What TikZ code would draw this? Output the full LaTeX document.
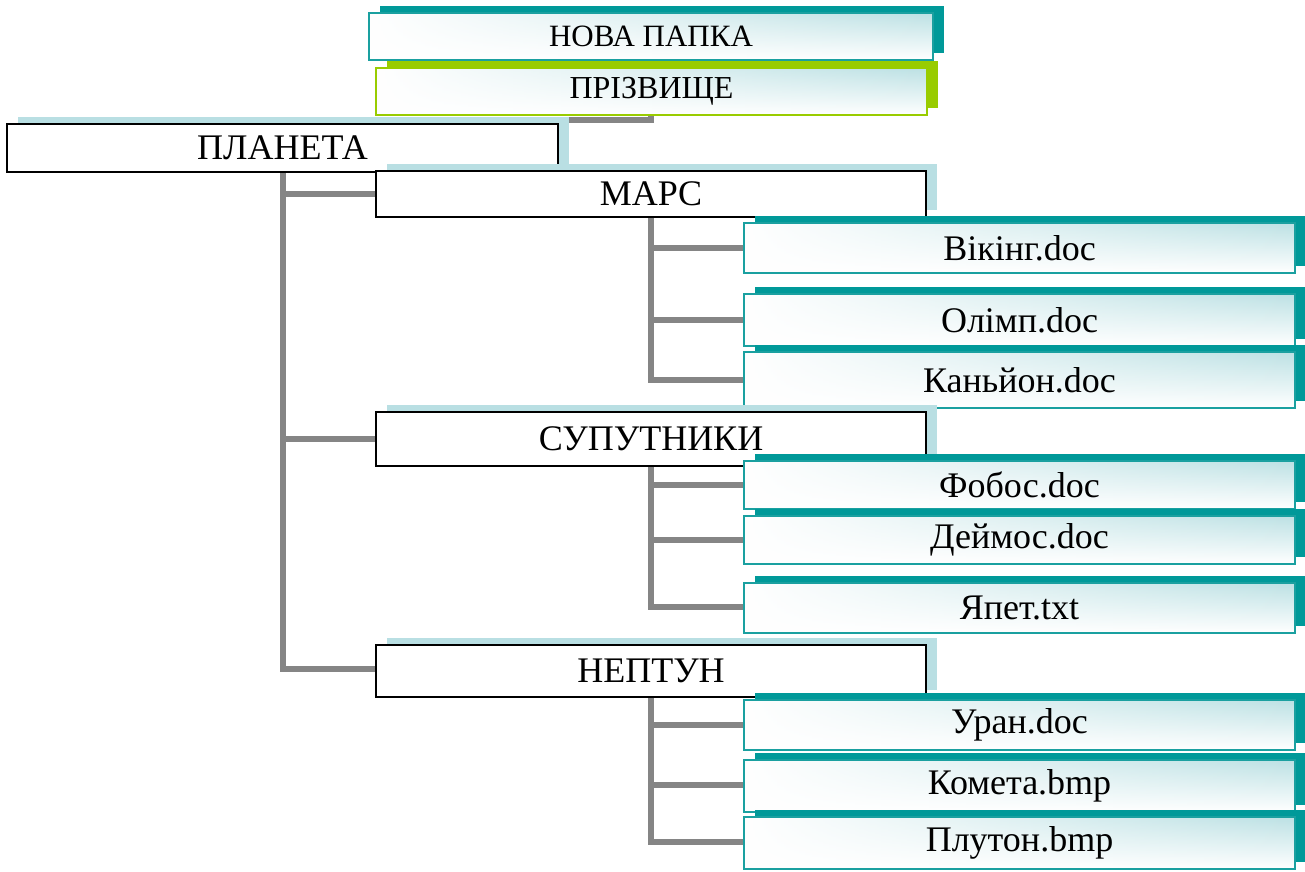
\documentclass[tikz,border=0pt]{standalone}
\usepackage{fontspec}
\setmainfont{Liberation Serif}
\usetikzlibrary{fadings}

\definecolor{tealshade}{HTML}{009999}
\definecolor{tealline}{HTML}{1AA0A0}
\definecolor{limeshade}{HTML}{99CC00}
\definecolor{paleblue}{HTML}{B9DFE3}
\definecolor{glow}{HTML}{BCE1E4}
\definecolor{linkgray}{HTML}{858585}

% white wash that fades out towards the right edge of a box
\tikzfading[name=washright, left color=transparent!0, right color=transparent!100]

\tikzset{
  conn/.style={draw=linkgray, line width=6pt},
  basebox/.style={rectangle, inner sep=0pt, align=center},
  folderbox/.style={basebox, draw=black, line width=2pt, fill=white,
    font=\fontsize{36}{42}\selectfont},
  filebox/.style={basebox, draw=tealline, line width=1.6pt,
    top color=glow, bottom color=white,
    path picture={\fill[white, path fading=washright]
      (path picture bounding box.south west) rectangle
      (path picture bounding box.north east);},
    font=\fontsize{36}{42}\selectfont},
  headbox/.style={filebox, font=\fontsize{31}{38}\selectfont},
}

% \panel{name}{cx}{cy}{width}{height}{style}{shadow colour}{text}
\newcommand{\panel}[8]{%
  \fill[#7] ({#2-#4/2+11},{#3-#5/2-7}) rectangle ({#2+#4/2+11},{#3+#5/2-7});
  \node[#6, minimum width=#4pt, minimum height=#5pt] (#1) at (#2,#3) {#8};
}

\begin{document}
\begin{tikzpicture}[x=1pt, y=-1pt]
\useasboundingbox (0,0) rectangle (1305,871);

% ---- connectors (behind the boxes) ----
\coordinate (novaS) at (651,60);
\coordinate (prizN) at (651,68);
\coordinate (prizS) at (651,115);
\coordinate (planN) at (282.5,124);
\draw[conn] (novaS) -- (prizN);
\draw[conn] (prizS) -- ++(0,4.5) -| (planN);

\coordinate (planS) at (282.5,172);
\coordinate (marsW) at (376,194);
\coordinate (supW)  at (376,439);
\coordinate (nepW)  at (376,669);
\draw[conn] (planS) |- (marsW);
\draw[conn] (planS) |- (supW);
\draw[conn] (planS) |- (nepW);

\coordinate (marsS) at (651,217);
\draw[conn] (marsS) |- (744,248);
\draw[conn] (marsS) |- (744,320);
\draw[conn] (marsS) |- (744,380);

\coordinate (supS) at (651,465);
\draw[conn] (supS) |- (744,485);
\draw[conn] (supS) |- (744,540);
\draw[conn] (supS) |- (744,607);

\coordinate (nepS) at (651,695);
\draw[conn] (nepS) |- (744,725);
\draw[conn] (nepS) |- (744,785);
\draw[conn] (nepS) |- (744,842);

% ---- boxes, each with its offset shadow ----
\panel{nova}{651}{36.5}{564}{47}{headbox}{tealshade}{НОВА ПАПКА}
\panel{priz}{651.5}{91.5}{551}{47}{headbox, draw=limeshade, font=\fontsize{32}{38}\selectfont}{limeshade}{ПРІЗВИЩЕ}
\panel{plan}{282.5}{148}{551}{48}{folderbox}{paleblue}{ПЛАНЕТА}

\panel{mars}{651}{194}{550}{46}{folderbox}{paleblue}{МАРС}
\panel{viking}{1019.5}{248}{551}{50}{filebox}{tealshade}{Вікінг.doc}
\panel{olimp}{1019.5}{320}{551}{52}{filebox}{tealshade}{Олімп.doc}
\panel{kanyon}{1019.5}{380}{551}{56}{filebox}{tealshade}{Каньйон.doc}

\panel{sup}{651}{439}{550}{54}{folderbox}{paleblue}{СУПУТНИКИ}
\panel{fobos}{1019.5}{485}{551}{48}{filebox}{tealshade}{Фобос.doc}
\panel{deimos}{1019.5}{540}{551}{48}{filebox}{tealshade}{Деймос.doc}
\panel{yapet}{1019.5}{608}{551}{50}{filebox}{tealshade}{Япет.txt}

\panel{nep}{651}{671}{550}{52}{folderbox}{paleblue}{НЕПТУН}
\panel{uran}{1019.5}{725}{551}{50}{filebox}{tealshade}{Уран.doc}
\panel{kometa}{1019.5}{786}{551}{52}{filebox}{tealshade}{Комета.bmp}
\panel{pluton}{1019.5}{843}{551}{52}{filebox}{tealshade}{Плутон.bmp}
\end{tikzpicture}
\end{document}
